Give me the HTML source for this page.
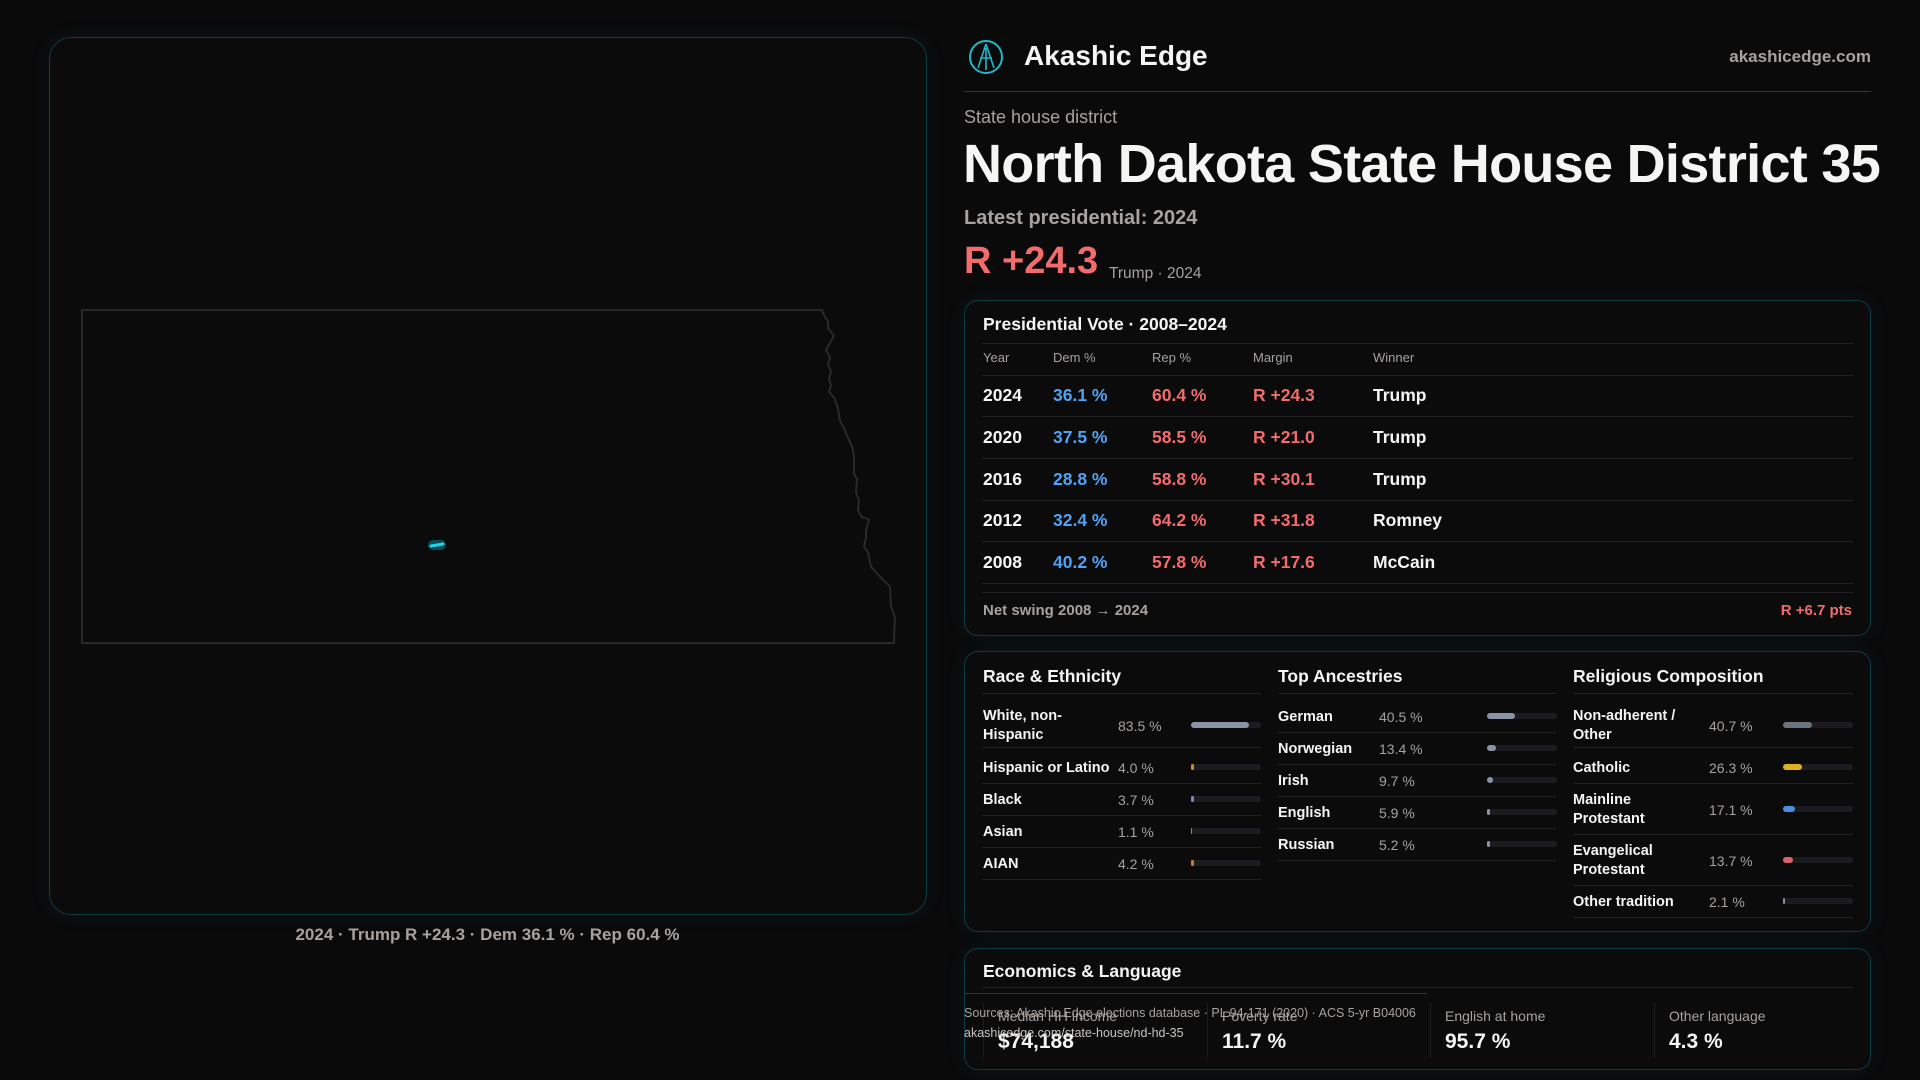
<!DOCTYPE html>
<html><head><meta charset="utf-8"><style>
*{margin:0;padding:0;box-sizing:border-box}
body{width:1920px;height:1080px;background:#0a0a0b;font-family:"Liberation Sans",sans-serif;color:#f5f5f4;position:relative;overflow:hidden}
.a{position:absolute;white-space:nowrap}
.card{position:absolute;background:#0b0b0c;border:1.5px solid #0f3a42;border-radius:14px;box-shadow:0 0 18px rgba(20,80,90,.18)}
.m{color:#a8a29e}
.b{color:#4fa3f7}.r{color:#f26b6d}
.hl{position:absolute;height:1px;background:#222226}
.bar{position:absolute;height:6px;border-radius:3px;background:#1c1c20;width:70px}
.bar i{position:absolute;left:0;top:0;height:6px;border-radius:3px}
.lab{font-size:14.5px;font-weight:bold;line-height:19px}
.val{font-size:14px;color:#a8a29e}
</style></head><body>
<div class="card" style="left:49px;top:37px;width:878px;height:878px;border-radius:22px;background:#0b0b0c"></div>
<svg class="a" style="left:0;top:0" width="960" height="960">
<path d="M82,310 L822,310 L825,318 L828,322 L828,330 L834,338 L830,346 L826,354 L830,362 L828,370 L831,378 L829,386 L831,393 L829,400 L834,406 L838,418 L840,432 L844,440 L847,448 L852,460 L854,470 L854,490 L857,496 L856,510 L859,520 L858,530 L862,538 L869,540 L866,552 L866,560 L864,570 L868,576 L871,592 L879,602 L890,614 L891,636 L895,648 L894,670 L894,676 L82,676 Z" transform="translate(0,27.9) scale(1,0.91)" fill="none" stroke="#2a2a2c" stroke-width="2"/>
<rect x="428" y="540" width="18" height="10" rx="5" fill="#0a4a55"/>
<line x1="431" y1="546" x2="443" y2="544" stroke="#22d3ee" stroke-width="3" stroke-linecap="round"/>
</svg>
<div class="a m" style="left:0;width:975px;text-align:center;top:925px;font-size:17px;font-weight:bold">2024 · Trump R +24.3 · Dem 36.1 % · Rep 60.4 %</div>

<svg class="a" style="left:968px;top:38px" width="36" height="38"><circle cx="18" cy="19" r="16" fill="none" stroke="#22b8c8" stroke-width="2"/><path d="M18,6 L10,30 M18,6 L26,30 M12,20 L24,20 M18,10 L18,32" stroke="#22b8c8" stroke-width="1.6" fill="none"/></svg>
<div class="a" style="left:1024px;top:40px;font-size:28px;font-weight:bold">Akashic Edge</div>
<div class="a m" style="right:49px;top:47px;font-size:17px;font-weight:bold">akashicedge.com</div>
<div class="a" style="left:964px;top:91px;width:907px;height:1px;background:#12434a"></div>
<div class="a m" style="left:964px;top:107px;font-size:18px">State house district</div>
<div class="a" style="left:963px;top:133px;font-size:54px;font-weight:bold;letter-spacing:-0.7px">North Dakota State House District 35</div>
<div class="a m" style="left:964px;top:207px;font-size:20px;font-weight:bold">Latest presidential: 2024</div>
<div class="a r" style="left:964px;top:240px;font-size:38px;font-weight:bold">R +24.3</div>
<div class="a m" style="left:1109px;top:265px;font-size:15.5px">Trump · 2024</div>

<div class="card" style="left:964px;top:300px;width:907px;height:336px"></div>
<div class="a" style="left:983px;top:314px;font-size:17.5px;font-weight:bold">Presidential Vote · 2008–2024</div>
<div class="hl" style="left:983px;width:870px;top:343px"></div>
<div class="a m" style="left:983px;top:350px;font-size:13px">Year</div>
<div class="a m" style="left:1053px;top:350px;font-size:13px">Dem %</div>
<div class="a m" style="left:1152px;top:350px;font-size:13px">Rep %</div>
<div class="a m" style="left:1253px;top:350px;font-size:13px">Margin</div>
<div class="a m" style="left:1373px;top:350px;font-size:13px">Winner</div>
<div class="hl" style="left:983px;width:870px;top:375px"></div>
<div class="hl" style="left:983px;width:870px;top:416px"></div>
<div class="hl" style="left:983px;width:870px;top:458px"></div>
<div class="hl" style="left:983px;width:870px;top:500px"></div>
<div class="hl" style="left:983px;width:870px;top:541px"></div>
<div class="hl" style="left:983px;width:870px;top:583px"></div>
<div style="font-size:17.5px;font-weight:bold">
<div class="a" style="left:983px;top:385px">2024</div><div class="a b" style="left:1053px;top:385px">36.1 %</div><div class="a r" style="left:1152px;top:385px">60.4 %</div><div class="a r" style="left:1253px;top:385px">R +24.3</div><div class="a" style="left:1373px;top:385px">Trump</div>
<div class="a" style="left:983px;top:427px">2020</div><div class="a b" style="left:1053px;top:427px">37.5 %</div><div class="a r" style="left:1152px;top:427px">58.5 %</div><div class="a r" style="left:1253px;top:427px">R +21.0</div><div class="a" style="left:1373px;top:427px">Trump</div>
<div class="a" style="left:983px;top:469px">2016</div><div class="a b" style="left:1053px;top:469px">28.8 %</div><div class="a r" style="left:1152px;top:469px">58.8 %</div><div class="a r" style="left:1253px;top:469px">R +30.1</div><div class="a" style="left:1373px;top:469px">Trump</div>
<div class="a" style="left:983px;top:510px">2012</div><div class="a b" style="left:1053px;top:510px">32.4 %</div><div class="a r" style="left:1152px;top:510px">64.2 %</div><div class="a r" style="left:1253px;top:510px">R +31.8</div><div class="a" style="left:1373px;top:510px">Romney</div>
<div class="a" style="left:983px;top:552px">2008</div><div class="a b" style="left:1053px;top:552px">40.2 %</div><div class="a r" style="left:1152px;top:552px">57.8 %</div><div class="a r" style="left:1253px;top:552px">R +17.6</div><div class="a" style="left:1373px;top:552px">McCain</div>
</div>
<div class="hl" style="left:983px;width:870px;top:592px"></div>
<div class="a m" style="left:983px;top:602px;font-size:15px;font-weight:bold">Net swing 2008 → 2024</div>
<div class="a r" style="right:68px;top:602px;font-size:15px;font-weight:bold">R +6.7 pts</div>

<div class="card" style="left:964px;top:651px;width:907px;height:281px"></div>
<div class="a" style="left:983px;top:666px;font-size:17.5px;font-weight:bold">Race &amp; Ethnicity</div>
<div class="a" style="left:1278px;top:666px;font-size:17.5px;font-weight:bold">Top Ancestries</div>
<div class="a" style="left:1573px;top:666px;font-size:17.5px;font-weight:bold">Religious Composition</div>
<div class="hl" style="left:983px;width:278px;top:693px"></div>
<div class="hl" style="left:1278px;width:278px;top:693px"></div>
<div class="hl" style="left:1573px;width:280px;top:693px"></div>

<div class="a lab" style="left:983px;top:707px">White, non-<br>Hispanic</div><div class="a val" style="left:1118px;top:718px">83.5 %</div><div class="bar" style="left:1191px;top:722px"><i style="width:58px;background:#8a93a6"></i></div>
<div class="hl" style="left:983px;width:278px;top:747px"></div>
<div class="a lab" style="left:983px;top:759px">Hispanic or Latino</div><div class="a val" style="left:1118px;top:760px">4.0 %</div><div class="bar" style="left:1191px;top:764px"><i style="width:3px;background:#d4891a"></i></div>
<div class="hl" style="left:983px;width:278px;top:783px"></div>
<div class="a lab" style="left:983px;top:791px">Black</div><div class="a val" style="left:1118px;top:792px">3.7 %</div><div class="bar" style="left:1191px;top:796px"><i style="width:3px;background:#8b7fd8"></i></div>
<div class="hl" style="left:983px;width:278px;top:815px"></div>
<div class="a lab" style="left:983px;top:823px">Asian</div><div class="a val" style="left:1118px;top:824px">1.1 %</div><div class="bar" style="left:1191px;top:828px"><i style="width:1px;background:#2bb58a"></i></div>
<div class="hl" style="left:983px;width:278px;top:847px"></div>
<div class="a lab" style="left:983px;top:855px">AIAN</div><div class="a val" style="left:1118px;top:856px">4.2 %</div><div class="bar" style="left:1191px;top:860px"><i style="width:3px;background:#d9782a"></i></div>
<div class="hl" style="left:983px;width:278px;top:879px"></div>

<div class="a lab" style="left:1278px;top:708px">German</div><div class="a val" style="left:1379px;top:709px">40.5 %</div><div class="bar" style="left:1487px;top:713px"><i style="width:28px;background:#8a93a6"></i></div>
<div class="hl" style="left:1278px;width:278px;top:732px"></div>
<div class="a lab" style="left:1278px;top:740px">Norwegian</div><div class="a val" style="left:1379px;top:741px">13.4 %</div><div class="bar" style="left:1487px;top:745px"><i style="width:9px;background:#8a93a6"></i></div>
<div class="hl" style="left:1278px;width:278px;top:764px"></div>
<div class="a lab" style="left:1278px;top:772px">Irish</div><div class="a val" style="left:1379px;top:773px">9.7 %</div><div class="bar" style="left:1487px;top:777px"><i style="width:6px;background:#8a93a6"></i></div>
<div class="hl" style="left:1278px;width:278px;top:796px"></div>
<div class="a lab" style="left:1278px;top:804px">English</div><div class="a val" style="left:1379px;top:805px">5.9 %</div><div class="bar" style="left:1487px;top:809px"><i style="width:3px;background:#8a93a6"></i></div>
<div class="hl" style="left:1278px;width:278px;top:828px"></div>
<div class="a lab" style="left:1278px;top:836px">Russian</div><div class="a val" style="left:1379px;top:837px">5.2 %</div><div class="bar" style="left:1487px;top:841px"><i style="width:3px;background:#8a93a6"></i></div>
<div class="hl" style="left:1278px;width:278px;top:860px"></div>

<div class="a lab" style="left:1573px;top:707px">Non-adherent /<br>Other</div><div class="a val" style="left:1709px;top:718px">40.7 %</div><div class="bar" style="left:1783px;top:722px"><i style="width:29px;background:#6b7280"></i></div>
<div class="hl" style="left:1573px;width:280px;top:747px"></div>
<div class="a lab" style="left:1573px;top:759px">Catholic</div><div class="a val" style="left:1709px;top:760px">26.3 %</div><div class="bar" style="left:1783px;top:764px"><i style="width:19px;background:#e0b020"></i></div>
<div class="hl" style="left:1573px;width:280px;top:783px"></div>
<div class="a lab" style="left:1573px;top:791px">Mainline<br>Protestant</div><div class="a val" style="left:1709px;top:802px">17.1 %</div><div class="bar" style="left:1783px;top:806px"><i style="width:12px;background:#4a8fe0"></i></div>
<div class="hl" style="left:1573px;width:280px;top:834px"></div>
<div class="a lab" style="left:1573px;top:842px">Evangelical<br>Protestant</div><div class="a val" style="left:1709px;top:853px">13.7 %</div><div class="bar" style="left:1783px;top:857px"><i style="width:10px;background:#e0606a"></i></div>
<div class="hl" style="left:1573px;width:280px;top:885px"></div>
<div class="a lab" style="left:1573px;top:893px">Other tradition</div><div class="a val" style="left:1709px;top:894px">2.1 %</div><div class="bar" style="left:1783px;top:898px"><i style="width:2px;background:#8a93a6"></i></div>
<div class="hl" style="left:1573px;width:280px;top:917px"></div>

<div class="card" style="left:964px;top:948px;width:907px;height:122px"></div>
<div class="a" style="left:983px;top:961px;font-size:17.5px;font-weight:bold">Economics &amp; Language</div>
<div class="hl" style="left:983px;width:870px;top:987px"></div>
<div class="a" style="left:983px;top:1003px;width:1px;height:55px;background:#1e1e22"></div>
<div class="a" style="left:1207px;top:1003px;width:1px;height:55px;background:#1e1e22"></div>
<div class="a" style="left:1430px;top:1003px;width:1px;height:55px;background:#1e1e22"></div>
<div class="a" style="left:1654px;top:1003px;width:1px;height:55px;background:#1e1e22"></div>
<div class="a m" style="left:998px;top:1008px;font-size:14px">Median HH income</div>
<div class="a" style="left:998px;top:1030px;font-size:21px;font-weight:bold">$74,188</div>
<div class="a m" style="left:1222px;top:1008px;font-size:14px">Poverty rate</div>
<div class="a" style="left:1222px;top:1030px;font-size:21px;font-weight:bold">11.7 %</div>
<div class="a m" style="left:1445px;top:1008px;font-size:14px">English at home</div>
<div class="a" style="left:1445px;top:1030px;font-size:21px;font-weight:bold">95.7 %</div>
<div class="a m" style="left:1669px;top:1008px;font-size:14px">Other language</div>
<div class="a" style="left:1669px;top:1030px;font-size:21px;font-weight:bold">4.3 %</div>
<div class="a" style="left:964px;top:993px;width:463px;height:1px;background:#12434a"></div>
<div class="a m" style="left:964px;top:1006px;font-size:12.5px">Sources: Akashic Edge elections database · PL 94-171 (2020) · ACS 5-yr B04006</div>
<div class="a m" style="left:964px;top:1026px;font-size:12.5px;color:#c8c4c0">akashicedge.com/state-house/nd-hd-35</div>
</body></html>
